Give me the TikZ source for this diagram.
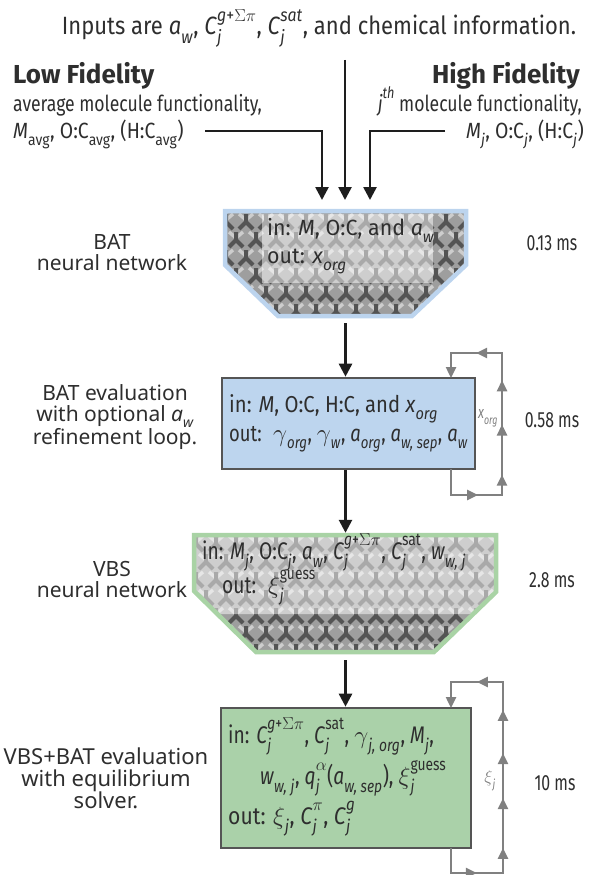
\documentclass[tikz,border=0pt]{standalone}
\usepackage{amsmath}
\usepackage{fontspec}
\setmainfont{Fira Sans}[FakeStretch=0.80]
\newfontfamily\fA{Fira Sans}[FakeStretch=0.88]
\newfontfamily\fB{Fira Sans}[FakeStretch=0.97]
\newfontfamily\fT{Fira Sans}[FakeStretch=0.72]
\newfontfamily\fH{Fira Sans}[FakeStretch=1.0]
\newfontfamily\lab{Noto Sans}
\usetikzlibrary{arrows.meta,decorations.markings}
\definecolor{txtc}{HTML}{2E2E2E}
\definecolor{connc}{HTML}{1E1E1E}
\definecolor{loopc}{HTML}{808080}
\definecolor{boxdraw}{HTML}{555555}
\definecolor{blueb}{HTML}{BCD4EE}
\definecolor{bluef}{HTML}{BDD5EE}
\definecolor{greenb}{HTML}{A9D3A5}
\definecolor{greenf}{HTML}{AAD1A9}
\definecolor{patbase}{HTML}{9E9E9E}
\definecolor{patdark}{HTML}{545454}
\definecolor{patlight}{HTML}{CDCDCD}
\newcommand{\iv}[1]{\textit{#1}}
\newcommand{\fs}[1]{\fontsize{#1}{#1}\selectfont}
\makeatletter
\newcommand{\smx}{\fontsize{\fpeval{0.72*\f@size}}{0}\selectfont}
\makeatother
\newcommand{\sbx}[1]{\raisebox{-0.34em}{\smx #1}\kern0.5pt}
\newcommand{\spx}[1]{\raisebox{0.55em}{\smx #1}}
\newcommand{\ssx}[2]{\rlap{\raisebox{-0.34em}{\smx #1}}\raisebox{0.55em}{\smx #2}\kern0.5pt}
\tikzset{
  txt/.style={inner sep=0pt, text=txtc},
  conn/.style={line width=2.6pt, draw=connc, -{Triangle[width=13pt,length=13pt]}},
  loopline/.style={line width=2.4pt, draw=loopc, line join=miter, -{Triangle[width=10pt,length=11pt]}},
  evalbox/.style={draw=boxdraw, line width=2.6pt, inner sep=0pt},
  nnbox/.style={inner sep=0pt, minimum width=0pt},
  lefttxt/.style={txt, align=center, font=\lab\fs{21}, text=txtc},
  timetxt/.style={txt, font=\fT\fs{22}},
  boxtxt/.style={txt, anchor=base west},
}
\newcommand{\nnpattern}[4]{%
  \fill[patbase] (#1,#2) rectangle (#3,#4);
  \foreach \yy [count=\k] in {#2,\the\numexpr#2+18\relax,...,#4}{%
    \pgfmathsetmacro{\off}{mod(\k,2)*10}
    \foreach \xx in {#1,\the\numexpr#1+20\relax,...,#3}{%
      \draw[patdark, line width=4pt, line cap=butt]
        (\xx+\off-7,\yy+7) -- (\xx+\off,\yy) -- (\xx+\off+7,\yy+7) (\xx+\off,\yy) -- (\xx+\off,\yy-8);
      \draw[patlight, line width=3.4pt, line cap=butt]
        (\xx+\off+3,\yy+10) -- (\xx+\off+10,\yy+16) -- (\xx+\off+17,\yy+10);
    }
  }
}
\begin{document}
\begin{tikzpicture}[x=1pt,y=-1pt]
\useasboundingbox (0,0) rectangle (589,875);

% ---------- top texts ----------
\node[txt, anchor=base, font=\fA\fs{25}] (title) at (319,35) {Inputs are \iv{a}\sbx{\iv{w}}, \iv{C}\ssx{\iv{j}}{\iv{g}+$\Sigma\pi$}, \iv{C}\ssx{\iv{j}}{\iv{sat}}, and chemical information.};
\node[txt, anchor=base west, font=\fH\fs{26}\bfseries] (lf1) at (13,83) {Low Fidelity};
\node[txt, anchor=base west, font=\fs{22}] (lf2) at (13,111) {average molecule functionality,};
\node[txt, anchor=base west, font=\fA\fs{22}] (lf3) at (13,138) {\iv{M}\sbx{avg}, O:C\sbx{avg}, (H:C\sbx{avg})};
\node[txt, anchor=base east, font=\fH\fs{26}\bfseries] (hf1) at (580,83) {High Fidelity};
\node[txt, anchor=base east, font=\fs{22}] (hf2) at (582,111) {\iv{j}\spx{\iv{th}} molecule functionality,};
\node[txt, anchor=base east, font=\fA\fs{22}] (hf3) at (584,138) {\iv{M}\sbx{\iv{j}}, O:C\sbx{\iv{j}}, (H:C\sbx{\iv{j}})};

\coordinate (lfend) at (205,131);
\coordinate (hfend) at (445,131);
\coordinate (topin) at (345,60);
\coordinate (inL) at (322,200);
\coordinate (inM) at (345,200);
\coordinate (inR) at (370,200);
\draw[conn] (lfend) -| (inL);
\draw[conn] (topin) -- (inM);
\draw[conn] (hfend) -| (inR);

% ---------- BAT neural network ----------
\node[nnbox, minimum width=245pt, minimum height=109pt] (batnn) at (345.5,263.5) {};
\begin{scope}
  \clip (224,210) -- (467,210) -- (467,265) -- (413,317) -- (277,317) -- (224,265) -- cycle;
  \nnpattern{206}{204}{480}{330}
  \fill[white, opacity=0.5] (262,214) rectangle (433,283);
\end{scope}
\draw[blueb, line width=4.5pt, line join=miter] (225,211) -- (466,211) -- (466,265) -- (412,316) -- (278,316) -- (225,265) -- cycle;
\node[boxtxt, font=\fB\fs{22}] (batnnin) at (267,235) {in: \iv{M}, O:C, and \iv{a}\sbx{\iv{w}}};
\node[boxtxt, font=\fB\fs{22}] (batnnout) at (267,263) {out: \iv{x}\sbx{\iv{org}}};

% ---------- BAT evaluation ----------
\node[evalbox, fill=bluef, minimum width=253pt, minimum height=91pt] (bateval) at (348.5,423.5) {};
\node[boxtxt, font=\fA\fs{23}] (batevin) at (229,412) {in: \iv{M}, O:C, H:C, and \iv{x}\sbx{\iv{org}}};
\node[boxtxt, font=\fs{23}] (batevout) at (229,441) {out: \ $\gamma$\sbx{\iv{org}}, $\gamma$\sbx{\iv{w}}, \iv{a}\sbx{\iv{org}}, \iv{a}\sbx{\iv{w, sep}}, \iv{a}\sbx{\iv{w}}};

% ---------- VBS neural network ----------
\node[nnbox, minimum width=306pt, minimum height=121pt] (vbsnn) at (345,593.5) {};
\begin{scope}
  \clip (193,534) -- (497,534) -- (497,592) -- (435,653) -- (255,653) -- (193,591) -- cycle;
  \nnpattern{176}{526}{512}{666}
  \fill[white, opacity=0.5] (190,536) -- (495,536) -- (495,590) arc[start angle=0, end angle=90, radius=24] -- (190,614) -- cycle;
\end{scope}
\draw[greenb, line width=4.5pt, line join=miter] (194,535) -- (496,535) -- (496,592) -- (434,652) -- (256,652) -- (194,591) -- cycle;
\node[boxtxt, font=\fs{24}] (vbsnnin) at (202,559) {in: \iv{M}\sbx{\iv{j}}, O:C\sbx{\iv{j}}, \iv{a}\sbx{\iv{w}}, \iv{C}\ssx{\iv{j}}{\iv{g}+$\Sigma\pi$}, \iv{C}\ssx{\iv{j}}{sat}, \iv{w}\sbx{\iv{w, j}}};
\node[boxtxt, font=\fs{24}] (vbsnnout) at (222,593) {out: \ $\xi$\ssx{\iv{j}}{guess}};

% ---------- VBS+BAT evaluation ----------
\node[evalbox, fill=greenf, minimum width=250pt, minimum height=140pt] (vbseval) at (346,778) {};
\node[boxtxt, font=\fs{24}] (vbsin1) at (228,743) {in: \iv{C}\ssx{\iv{j}}{\iv{g}+$\Sigma\pi$}, \iv{C}\ssx{\iv{j}}{sat}, $\gamma$\sbx{\iv{j, org}}, \iv{M}\sbx{\iv{j}},};
\node[boxtxt, font=\fs{24}] (vbsin2) at (260,784) {\iv{w}\sbx{\iv{w, j}}, \iv{q}\ssx{\iv{j}}{$\alpha$}(\iv{a}\sbx{\iv{w, sep}}), $\xi$\ssx{\iv{j}}{guess}};
\node[boxtxt, font=\fA\fs{24}] (vbsout) at (228,824) {out: $\xi$\sbx{\iv{j}}, \iv{C}\ssx{\iv{j}}{$\pi$}, \iv{C}\ssx{\iv{j}}{\iv{g}}};

% ---------- main connectors ----------
\draw[conn] ([yshift=-5pt]batnn.south) -- (batnn.south |- bateval.north);
\draw[conn] (batnn.south |- bateval.south) -- (batnn.south |- vbsnn.north);
\draw[conn] ([yshift=-6pt]batnn.south |- vbsnn.south) -- (batnn.south |- vbseval.north);

% ---------- feedback loops ----------
\coordinate (l1a) at (451,469);
\coordinate (l1b) at (451,495);
\coordinate (l1c) at (502,495);
\coordinate (l1d) at (502,353);
\coordinate (l1e) at (451,353);
\coordinate (l1f) at (451,378);
\draw[loopline, postaction={decorate}, decoration={markings,
   mark=at position 0.18 with {\arrow{Triangle[width=10pt,length=11pt]}},
   mark=at position 0.33 with {\arrow{Triangle[width=10pt,length=11pt]}},
   mark=at position 0.50 with {\arrow{Triangle[width=10pt,length=11pt]}},
   mark=at position 0.65 with {\arrow{Triangle[width=10pt,length=11pt]}},
   mark=at position 0.83 with {\arrow{Triangle[width=10pt,length=11pt]}}}]
   (l1a) -- (l1b) -- (l1c) -- (l1d) -- (l1e) -- (l1f);
\node[txt, text=loopc, font=\fT\fs{17}] (l1lab) at (488,418) {\iv{x}\sbx{\iv{org}}};

\coordinate (l2a) at (451,848);
\coordinate (l2b) at (451,873);
\coordinate (l2c) at (503,873);
\coordinate (l2d) at (503,682);
\coordinate (l2e) at (451,682);
\coordinate (l2f) at (451,708);
\draw[loopline, postaction={decorate}, decoration={markings,
   mark=at position 0.147 with {\arrow{Triangle[width=10pt,length=11pt]}},
   mark=at position 0.295 with {\arrow{Triangle[width=10pt,length=11pt]}},
   mark=at position 0.439 with {\arrow{Triangle[width=10pt,length=11pt]}},
   mark=at position 0.569 with {\arrow{Triangle[width=10pt,length=11pt]}},
   mark=at position 0.694 with {\arrow{Triangle[width=10pt,length=11pt]}},
   mark=at position 0.85 with {\arrow{Triangle[width=10pt,length=11pt]}}}]
   (l2a) -- (l2b) -- (l2c) -- (l2d) -- (l2e) -- (l2f);
\node[txt, text=loopc, font=\fs{17}] (l2lab) at (490,781) {$\xi$\sbx{\iv{j}}};

% ---------- left labels ----------
\node[lefttxt] (lab1) at (112,253) {BAT\\neural network};
\node[lefttxt] (lab2) at (115,417) {BAT evaluation\\with optional \iv{a}\raisebox{-0.25em}{\fs{14}\iv{w}}\\refinement loop.};
\node[lefttxt] (lab3) at (112,579) {VBS\\neural network};
\node[lefttxt, font=\lab\fs{22}] (lab4) at (106,778) {VBS+BAT evaluation\\with equilibrium\\solver.};

% ---------- times ----------
\node[timetxt] (t1) at (552,243) {0.13 ms};
\node[timetxt] (t2) at (552,420) {0.58 ms};
\node[timetxt] (t3) at (552,580) {2.8 ms};
\node[timetxt] (t4) at (555,783) {10 ms};
\end{tikzpicture}
\end{document}
